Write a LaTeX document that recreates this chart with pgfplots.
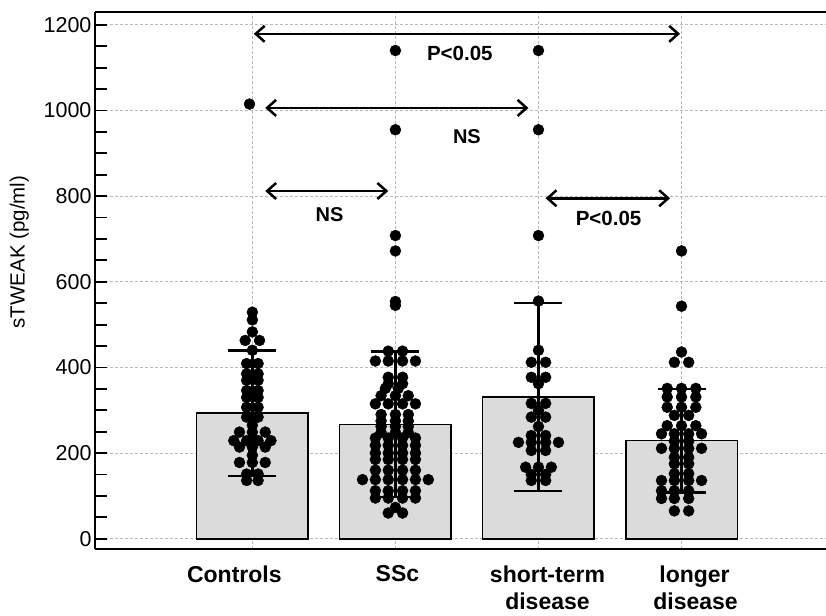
\documentclass[border=0pt]{standalone}
\usepackage{pgfplots}
\pgfplotsset{compat=1.18}
\usepackage{fontspec}
\setmainfont{Liberation Sans}
\usetikzlibrary{arrows.meta}
\begin{document}
\begin{tikzpicture}
\begin{axis}[
  scale only axis, width=731pt, height=537pt,
  xmin=-1.10, xmax=4.01, ymin=-24, ymax=1230,
  axis x line*=box, axis y line*=left,
  axis line style={line width=2.5pt},
  xtick={0,1,2,3},
  xticklabels={Controls\hspace*{36pt}, \hspace*{4pt}SSc, \hspace*{18pt}short-term\\\hspace*{18pt}disease, \hspace*{26pt}longer\\\hspace*{28pt}disease},
  xticklabel style={align=center, font=\bfseries\fontsize{23}{27.5}\selectfont, yshift=-13pt},
  xtick style={draw=none},
  ytick={0,200,...,1200}, minor y tick num=3,
  tick align=inside, major tick length=12pt, minor tick length=12pt,
  ytick style={line width=1.8pt, black},
  minor y tick style={line width=1.8pt, black},
  yticklabel style={font=\fontsize{21.5}{24}\selectfont},
  /pgf/number format/assume math mode=true,
  /pgf/number format/1000 sep={},
  ylabel={sTWEAK (pg/ml)},
  ylabel style={font=\fontsize{20.5}{23}\selectfont, at={(ticklabel cs:0.553,8pt)}},
  grid=major,
  major grid style={dash pattern=on 3pt off 2pt, gray!55, line width=0.8pt},
]
% bars (means)
\addplot[ybar, bar width=0.78, fill=black!14, draw=black, line width=1.6pt]
  coordinates {(0,293) (1,267) (2,331) (3,229)};
% error bars (SD)
\addplot[only marks, mark=none,
  error bars/.cd, y dir=both, y explicit,
  error bar style={line width=2.5pt, black},
  error mark options={rotate=90, line width=2.5pt, black, mark size=24pt}]
  coordinates {(0,293) +- (0,146) (1,267) +- (0,170) (2,331) +- (0,220) (3,229) +- (0,121)};
% individual values
\addplot[only marks, mark=*, mark size=5.5pt, black] coordinates {
 (-0.02,1015)
 (0,529) (0,511) (0,483) (-0.05,463) (0.05,463) (0,440)
 (-0.04,409) (0.04,409) (-0.04,385) (0.04,385) (-0.04,370) (0.04,370)
 (-0.04,346) (0.04,346) (-0.04,330) (0.04,330) (-0.04,307) (0.04,307)
 (-0.04,284) (0.04,284) (0,265)
 (-0.09,249) (0,249) (0.09,249)
 (-0.13,229) (-0.04,229) (0.04,229) (0.13,229)
 (-0.09,214) (0,214) (0.09,214) (0,195)
 (-0.09,178) (0,178) (0.09,178)
 (-0.04,151) (0.04,151) (-0.04,136) (0.04,136)
};
\addplot[only marks, mark=*, mark size=5.5pt, black] coordinates {
 (1,1140) (1,955) (1,708) (1,672) (1,554) (1,545)
 (0.95,438) (1.05,438)
 (0.86,415) (0.95,415) (1.05,415) (1.14,415)
 (0.95,377) (1.05,377) (0.95,362) (1.05,362) (0.93,351) (1.02,351)
 (0.9,334) (1,334) (1.09,334)
 (0.86,315) (0.95,315) (1.05,315) (1.14,315)
 (0.9,290) (1,290) (1.09,290) (0.9,275) (1,275) (1.09,275)
 (0.9,262) (1,262) (1.09,262) (0.9,248) (1,248) (1.09,248)
 (0.86,235) (0.95,235) (1.05,235) (1.14,235)
 (0.86,218) (0.95,218) (1.05,218) (1.14,218)
 (0.86,200) (0.95,200) (1.05,200) (1.14,200)
 (0.86,185) (0.95,185) (1.05,185) (1.14,185)
 (0.86,160) (0.95,160) (1.05,160) (1.14,160)
 (0.77,138) (0.86,138) (0.95,138) (1.05,138) (1.14,138) (1.23,138)
 (0.86,112) (0.95,112) (1.05,112) (1.14,112)
 (0.86,95) (0.95,95) (1.05,95) (1.14,95)
 (1,73) (0.95,60) (1.05,60)
};
\addplot[only marks, mark=*, mark size=5.5pt, black] coordinates {
 (2,1140) (2,955) (2,708) (2,555) (2,440)
 (1.95,412) (2.05,412) (1.95,377) (2.05,377) (2,362)
 (1.95,316) (2.05,316) (2,300) (1.95,284) (2.05,284) (2,262)
 (1.95,241) (2.05,241)
 (1.86,225) (1.95,225) (2.05,225) (2.14,225)
 (1.95,206) (2.05,206)
 (1.91,167) (2,167) (2.09,167)
 (1.95,150) (2.05,150) (1.95,136) (2.05,136)
};
\addplot[only marks, mark=*, mark size=5.5pt, black] coordinates {
 (3,672) (3,543) (3,436) (2.95,412) (3.05,412)
 (2.9,351) (3,351) (3.1,351) (2.9,331) (3,331) (3.1,331)
 (2.9,307) (3,307) (3.1,307) (2.95,288) (3.05,288)
 (2.9,264) (3,264) (3.1,264)
 (2.86,245) (2.95,245) (3.05,245) (3.14,245)
 (2.95,228) (3.05,228)
 (2.86,211) (2.95,211) (3.05,211) (3.14,211)
 (2.95,190) (3.05,190) (2.95,175) (3.05,175) (2.95,152) (3.05,152)
 (2.86,136) (2.95,136) (3.05,136) (3.14,136)
 (2.86,112) (2.95,112) (3.05,112)
 (2.86,94) (2.95,94) (3.05,94)
 (2.95,65) (3.05,65)
};
% comparison arrows
\draw[{Straight Barb[length=9pt,width=16pt]}-{Straight Barb[length=9pt,width=16pt]}, line width=2.5pt]
  (axis cs:0.01,1179) -- (axis cs:2.99,1179);
\draw[{Straight Barb[length=9pt,width=16pt]}-{Straight Barb[length=9pt,width=16pt]}, line width=2.5pt]
  (axis cs:0.09,1006) -- (axis cs:1.93,1006);
\draw[{Straight Barb[length=9pt,width=16pt]}-{Straight Barb[length=9pt,width=16pt]}, line width=2.5pt]
  (axis cs:0.09,812) -- (axis cs:0.95,812);
\draw[{Straight Barb[length=9pt,width=16pt]}-{Straight Barb[length=9pt,width=16pt]}, line width=2.5pt]
  (axis cs:2.05,795) -- (axis cs:2.92,795);
\node[font=\bfseries\fontsize{20.5}{23}\selectfont] at (axis cs:1.45,1134) {P<0.05};
\node[font=\bfseries\fontsize{20}{23}\selectfont] at (axis cs:1.50,940) {NS};
\node[font=\bfseries\fontsize{20}{23}\selectfont] at (axis cs:0.54,756) {NS};
\node[font=\bfseries\fontsize{20.5}{23}\selectfont] at (axis cs:2.49,748) {P<0.05};
\end{axis}
\pgfresetboundingbox
\path ([xshift=-95pt,yshift=-66pt]current axis.south west) rectangle ([yshift=12pt]current axis.north east);
\end{tikzpicture}
\end{document}
